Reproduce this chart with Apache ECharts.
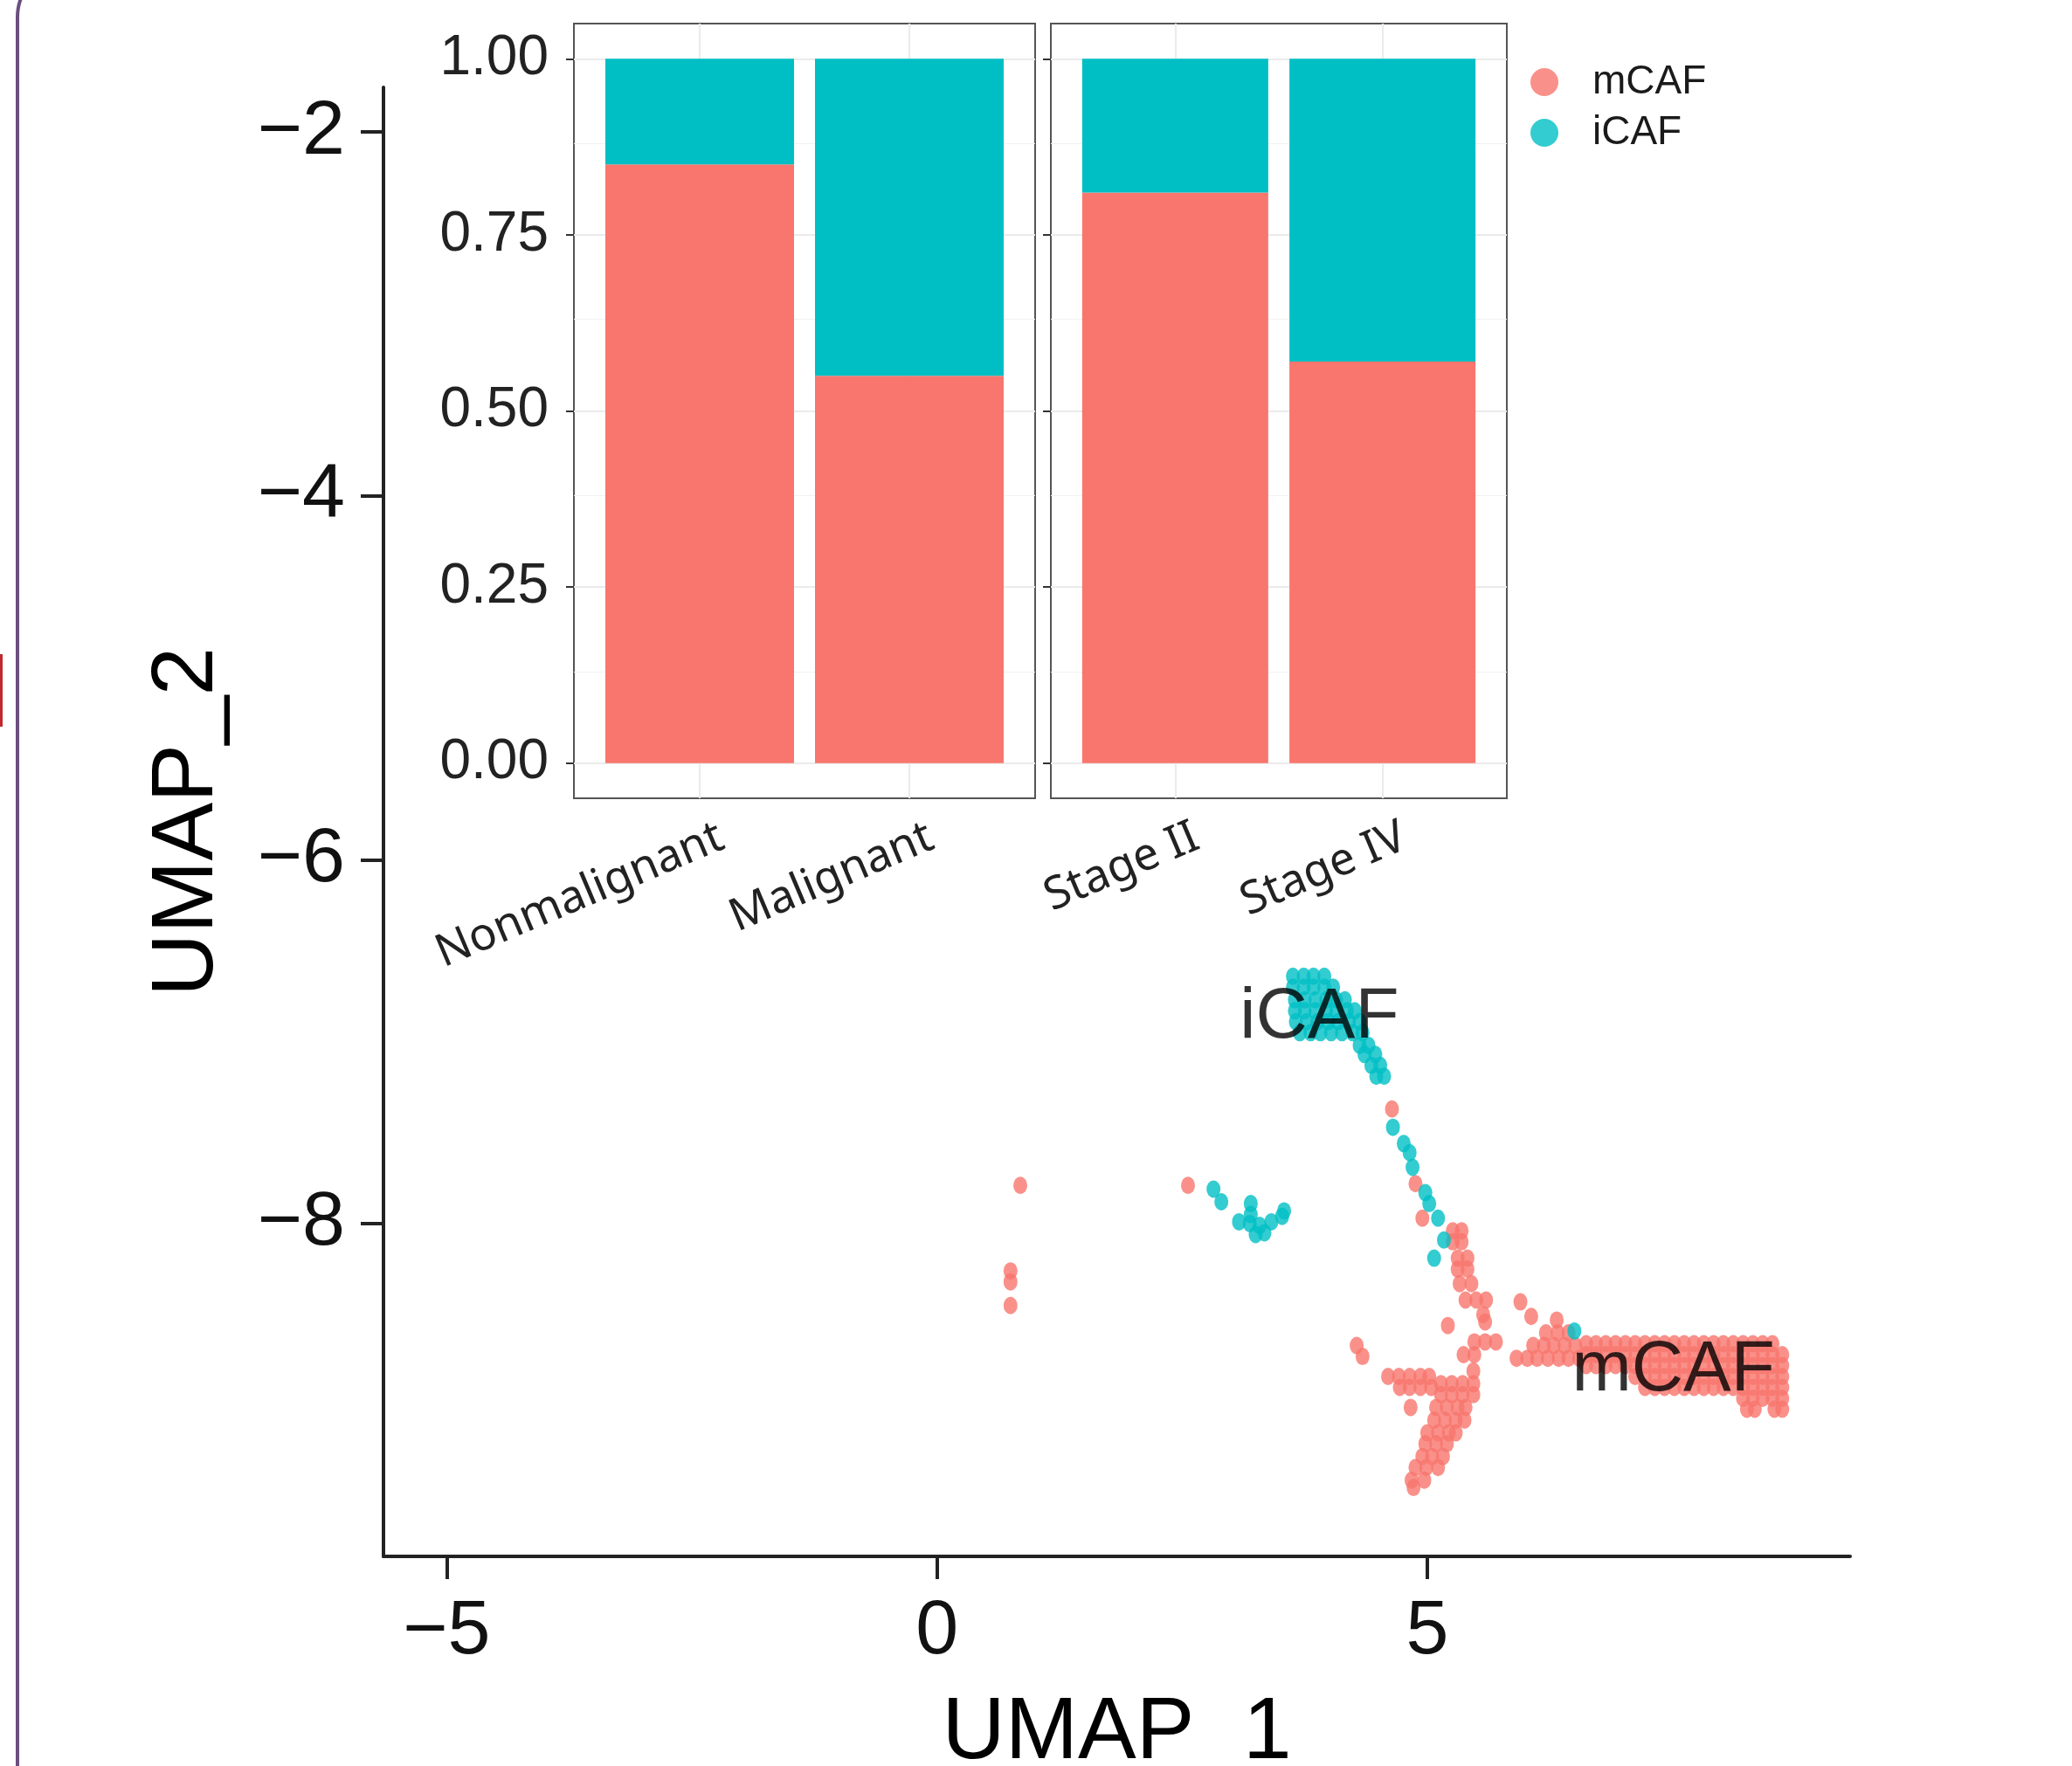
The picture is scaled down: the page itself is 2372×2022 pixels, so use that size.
<!DOCTYPE html>
<html>
<head>
<meta charset="utf-8">
<title>CAF UMAP with proportion inset</title>
<script src="https://cdn.jsdelivr.net/npm/echarts@6/dist/echarts.min.js"></script>
<style>
    html, body {
        margin: 0;
        padding: 0;
        background: #fff;
    }

    #chart {
        width: 2372px;
        height: 2022px;
    }
</style>
</head>
<body>
<div id="chart"></div>
<script>
    // ---- UMAP points, [UMAP_1, UMAP_2] ----
    var mcafStray = [
        [0.85, -7.79], [0.75, -8.26], [0.75, -8.32], [0.75, -8.45], [2.56, -7.79],
        [4.64, -7.37], [4.88, -7.78], [4.95, -7.97],
        [5.21, -8.56], [4.28, -8.67], [4.34, -8.73], [4.83, -9.01]
    ];
    var mcafStreak = [
        [5.26, -8.04], [5.35, -8.04], [5.26, -8.10], [5.35, -8.10],
        [5.31, -8.19], [5.41, -8.19], [5.31, -8.25], [5.41, -8.25],
        [5.33, -8.33], [5.45, -8.33], [5.39, -8.42], [5.50, -8.42], [5.60, -8.42],
        [5.57, -8.50], [5.59, -8.54],
        [5.48, -8.65], [5.59, -8.65], [5.70, -8.65], [5.37, -8.72], [5.48, -8.72], [5.47, -8.81]
    ];
    var mcafTail = [
        [5.14, -8.88], [5.25, -8.88], [5.36, -8.88], [5.47, -8.88],
        [5.14, -8.94], [5.25, -8.94], [5.36, -8.94], [5.47, -8.94],
        [5.09, -9.01], [5.20, -9.01], [5.31, -9.01], [5.39, -9.01],
        [5.07, -9.08], [5.18, -9.08], [5.29, -9.08], [5.38, -9.08],
        [5.00, -9.15], [5.11, -9.15], [5.22, -9.15], [5.29, -9.15],
        [4.98, -9.21], [5.09, -9.21], [5.20, -9.21],
        [4.95, -9.28], [5.05, -9.28], [5.16, -9.28],
        [4.88, -9.34], [4.99, -9.34], [5.11, -9.34],
        [4.84, -9.41], [4.97, -9.41], [4.86, -9.45],
        [4.60, -8.84], [4.71, -8.84], [4.82, -8.84], [4.93, -8.84], [5.02, -8.84],
        [4.72, -8.90], [4.82, -8.90], [4.93, -8.90], [5.04, -8.90]
    ];
    var mcafBranch = [
        [5.95, -8.43], [6.06, -8.51], [6.32, -8.53],
        [6.21, -8.60], [6.33, -8.60], [6.44, -8.60],
        [6.08, -8.67], [6.19, -8.67], [6.29, -8.67], [6.40, -8.67], [6.51, -8.67],
        [5.91, -8.74], [6.02, -8.74], [6.12, -8.74], [6.23, -8.74], [6.34, -8.74], [6.44, -8.74], [6.55, -8.74]
    ];
    var mcafCluster = [
        [6.62, -8.66], [6.72, -8.66], [6.82, -8.66], [6.92, -8.66], [7.02, -8.66], [7.12, -8.66], [7.22, -8.66],
        [7.32, -8.66], [7.42, -8.66], [7.52, -8.66], [7.62, -8.66], [7.72, -8.66], [7.82, -8.66], [7.92, -8.66],
        [8.02, -8.66], [8.12, -8.66], [8.22, -8.66], [8.32, -8.66], [8.42, -8.66], [8.52, -8.66],
        [6.62, -8.72], [6.72, -8.72], [6.82, -8.72], [6.92, -8.72], [7.02, -8.72], [7.12, -8.72], [7.22, -8.72],
        [7.32, -8.72], [7.42, -8.72], [7.52, -8.72], [7.62, -8.72], [7.72, -8.72], [7.82, -8.72], [7.92, -8.72],
        [8.02, -8.72], [8.12, -8.72], [8.22, -8.72], [8.32, -8.72], [8.42, -8.72], [8.52, -8.72], [8.62, -8.72],
        [6.62, -8.78], [6.72, -8.78], [6.82, -8.78], [6.92, -8.78], [7.02, -8.78], [7.12, -8.78], [7.22, -8.78],
        [7.32, -8.78], [7.42, -8.78], [7.52, -8.78], [7.62, -8.78], [7.72, -8.78], [7.82, -8.78], [7.92, -8.78],
        [8.02, -8.78], [8.12, -8.78], [8.22, -8.78], [8.32, -8.78], [8.42, -8.78], [8.52, -8.78], [8.62, -8.78],
        [7.12, -8.84], [7.22, -8.84], [7.32, -8.84], [7.42, -8.84], [7.52, -8.84], [7.62, -8.84], [7.72, -8.84],
        [7.82, -8.84], [7.92, -8.84], [8.02, -8.84], [8.12, -8.84], [8.22, -8.84], [8.32, -8.84], [8.42, -8.84],
        [8.52, -8.84], [8.62, -8.84],
        [7.22, -8.90], [7.32, -8.90], [7.42, -8.90], [7.52, -8.90], [7.62, -8.90], [7.72, -8.90], [7.82, -8.90],
        [7.92, -8.90], [8.02, -8.90], [8.12, -8.90], [8.22, -8.90], [8.32, -8.90], [8.42, -8.90], [8.52, -8.90],
        [8.62, -8.90],
        [8.22, -8.96], [8.32, -8.96], [8.42, -8.96], [8.52, -8.96], [8.62, -8.96],
        [8.26, -9.02], [8.34, -9.02], [8.54, -9.02], [8.62, -9.02]
    ];
    var icafTop = [
        [3.63, -6.64], [3.74, -6.64], [3.84, -6.64], [3.95, -6.64],
        [3.63, -6.70], [3.74, -6.70], [3.84, -6.70], [3.95, -6.70], [4.04, -6.70],
        [3.65, -6.77], [3.75, -6.77], [3.86, -6.77], [3.97, -6.77], [4.07, -6.77], [4.16, -6.77],
        [3.65, -6.83], [3.75, -6.83], [3.86, -6.83], [3.97, -6.83], [4.07, -6.83], [4.18, -6.83], [4.26, -6.83],
        [3.66, -6.89], [3.77, -6.89], [3.88, -6.89], [3.99, -6.89], [4.09, -6.89], [4.20, -6.89], [4.31, -6.89],
        [3.70, -6.95], [3.81, -6.95], [3.91, -6.95], [4.02, -6.95], [4.13, -6.95], [4.24, -6.95], [4.34, -6.95],
        [4.31, -7.02], [4.40, -7.02], [4.36, -7.07], [4.47, -7.07],
        [4.43, -7.13], [4.52, -7.13], [4.48, -7.19], [4.56, -7.19]
    ];
    var icafStreak = [
        [4.65, -7.47], [4.76, -7.56], [4.82, -7.61], [4.85, -7.69], [4.98, -7.83],
        [5.02, -7.89], [5.11, -7.97], [5.17, -8.09], [5.07, -8.19], [6.50, -8.59]
    ];
    var icafSide = [
        [2.82, -7.81], [2.90, -7.88], [3.20, -7.89], [3.20, -7.95], [3.08, -7.99], [3.19, -8.00],
        [3.29, -8.01], [3.41, -7.99], [3.52, -7.96], [3.54, -7.93], [3.25, -8.06], [3.34, -8.05]
    ];
    var clusterLabels = [
        {name: 'iCAF', value: [3.90, -6.87]},
        {name: 'mCAF', value: [7.51, -8.81]}
    ];
    var umapXTicks = [-5, 0, 5];
    var umapYTicks = [-8, -6, -4, -2];

    // ---- proportion inset ----
    var tissueCats = ['Nonmalignant', 'Malignant'];
    var tissueMcaf = [0.85, 0.55];
    var tissueIcaf = [0.15, 0.45];
    var stageCats = ['Stage II', 'Stage IV'];
    var stageMcaf = [0.81, 0.57];
    var stageIcaf = [0.19, 0.43];
    var propTicks = [0, 0.25, 0.5, 0.75, 1];
    var propMinor = [0.125, 0.375, 0.625, 0.875];

    var RED = '#F8766D';
    var CYAN = '#00BFC4';
    var FONT = 'Liberation Sans';
    var ELLIPSE = 'path://M0,1a1,1 0 1,0 2,0a1,1 0 1,0 -2,0z';

    function minus(v) {
        return v < 0 ? '\u2212' + Math.abs(v) : String(v);
    }

    // [proportion, position] -- proportion first so the stack runs on y
    function toBars(vals) {
        return vals.map(function (v, i) { return [v, i + 1]; });
    }

    // light panel grid (theme_bw look)
    function panelGrid(cats) {
        var d = [];
        propTicks.forEach(function (v) {
            d.push({yAxis: v, lineStyle: {color: '#ebebeb', width: 2, type: 'solid'}});
        });
        propMinor.forEach(function (v) {
            d.push({yAxis: v, lineStyle: {color: '#f2f2f2', width: 1, type: 'solid'}});
        });
        cats.forEach(function (c, i) {
            d.push({xAxis: i + 1, lineStyle: {color: '#ebebeb', width: 2, type: 'solid'}});
        });
        return {silent: true, symbol: 'none', z: 1, label: {show: false}, animation: false, data: d};
    }

    function insetX(gridIndex, cats) {
        return {
            gridIndex: gridIndex, type: 'value', min: 0.4, max: 2.6,
            axisLine: {show: false},
            splitLine: {show: false},
            axisTick: {show: true, customValues: [1, 2], length: 9, lineStyle: {color: '#333', width: 2}},
            axisLabel: {
                show: true, customValues: [1, 2], rotate: 23, margin: 25,
                align: 'right', verticalAlign: 'top', padding: [0, -16, 0, 0],
                fontFamily: 'Noto Sans', fontSize: 52, color: '#222',
                formatter: function (v) { return cats[Math.round(v) - 1]; }
            }
        };
    }

    function insetY(gridIndex, showLabels) {
        return {
            gridIndex: gridIndex, type: 'value', min: -0.05, max: 1.05,
            axisLine: {show: false},
            splitLine: {show: false},
            axisTick: {show: true, customValues: propTicks, length: 9, lineStyle: {color: '#333', width: 2}},
            axisLabel: {
                show: showLabels, customValues: propTicks, margin: 29,
                fontFamily: FONT, fontSize: 64, color: '#222',
                formatter: function (v) { return v.toFixed(2); }
            }
        };
    }

    function barSeries(name, color, axisIndex, stack, width, vals, grid) {
        var s = {
            name: name, type: 'bar', xAxisIndex: axisIndex, yAxisIndex: axisIndex, stack: stack, z: 2,
            barWidth: width, itemStyle: {color: color},
            encode: {x: 1, y: 0},
            data: toBars(vals)
        };
        if (grid) {
            s.markLine = grid;
        }
        return s;
    }

    var chart = echarts.init(document.getElementById('chart'));

    chart.setOption({
        animation: false,
        backgroundColor: '#fff',
        textStyle: {fontFamily: FONT},
        graphic: [
            {
                type: 'rect', silent: true, z: 0,
                shape: {x: 20, y: -40, width: 3000, height: 3000, r: 60},
                style: {fill: 'none', stroke: '#6b4f7f', lineWidth: 4}
            },
            {
                type: 'rect', silent: true, z: 0,
                shape: {x: 0, y: 749, width: 3, height: 83},
                style: {fill: '#c0282d'}
            }
        ],
        legend: {
            orient: 'vertical',
            left: 1747,
            top: 66,
            itemWidth: 32,
            itemHeight: 32,
            itemGap: 12,
            selectedMode: false,
            textStyle: {fontFamily: FONT, fontSize: 46, color: '#1a1a1a', padding: [0, 0, 0, 34]},
            data: [{name: 'mCAF', icon: 'circle'}, {name: 'iCAF', icon: 'circle'}]
        },
        grid: [
            {left: 439, top: 100, width: 1679, height: 1682, outerBoundsMode: 'none', containLabel: false},
            {left: 657, top: 27, width: 528, height: 887, outerBoundsMode: 'none', show: true, backgroundColor: '#fff', borderColor: '#555', borderWidth: 2},
            {left: 1203, top: 27, width: 522, height: 887, outerBoundsMode: 'none', show: true, backgroundColor: '#fff', borderColor: '#555', borderWidth: 2}
        ],
        xAxis: [
            {
                gridIndex: 0, type: 'value', min: -5.644, max: 9.312,
                name: 'UMAP_1', nameLocation: 'middle', nameGap: 153,
                nameTextStyle: {fontFamily: FONT, fontSize: 100, color: '#000'},
                axisLine: {show: true, onZero: false, lineStyle: {color: '#222', width: 4}},
                axisTick: {show: true, customValues: umapXTicks, length: 26, lineStyle: {color: '#222', width: 4}},
                axisLabel: {show: true, customValues: umapXTicks, margin: 43, fontFamily: FONT, fontSize: 88, color: '#111', formatter: minus},
                splitLine: {show: false}
            },
            insetX(1, tissueCats),
            insetX(2, stageCats)
        ],
        yAxis: [
            {
                gridIndex: 0, type: 'value', min: -9.829, max: -1.754,
                name: 'UMAP_2', nameLocation: 'middle', nameGap: 174,
                nameTextStyle: {fontFamily: FONT, fontSize: 100, color: '#000'},
                axisLine: {show: true, onZero: false, lineStyle: {color: '#222', width: 4}},
                axisTick: {show: true, customValues: umapYTicks, length: 26, lineStyle: {color: '#222', width: 4}},
                axisLabel: {show: true, customValues: umapYTicks, margin: 44, fontFamily: FONT, fontSize: 88, color: '#111', formatter: minus},
                splitLine: {show: false}
            },
            insetY(1, true),
            insetY(2, false)
        ],
        series: [
            {
                name: 'mCAF', type: 'scatter', xAxisIndex: 0, yAxisIndex: 0, z: 3,
                symbol: ELLIPSE, symbolSize: [16, 20],
                itemStyle: {color: RED},
                data: mcafStray.concat(mcafStreak, mcafTail, mcafBranch, mcafCluster)
            },
            {
                name: 'iCAF', type: 'scatter', xAxisIndex: 0, yAxisIndex: 0, z: 4,
                symbol: ELLIPSE, symbolSize: [16, 20],
                itemStyle: {color: CYAN},
                data: icafTop.concat(icafStreak, icafSide)
            },
            {
                // cluster names written over the clouds
                name: 'clusterLabel', type: 'scatter', xAxisIndex: 0, yAxisIndex: 0, z: 6,
                symbolSize: 2, itemStyle: {color: 'rgba(0,0,0,0)'}, silent: true,
                label: {show: true, position: 'inside', formatter: '{b}', fontFamily: FONT, fontSize: 82, color: '#000'},
                data: clusterLabels
            },
            barSeries('mCAF', RED, 1, 'tissue', 216, tissueMcaf, panelGrid(tissueCats)),
            barSeries('iCAF', CYAN, 1, 'tissue', 216, tissueIcaf),
            barSeries('mCAF', RED, 2, 'stage', 213, stageMcaf, panelGrid(stageCats)),
            barSeries('iCAF', CYAN, 2, 'stage', 213, stageIcaf)
        ]
    });
</script>
</body>
</html>
